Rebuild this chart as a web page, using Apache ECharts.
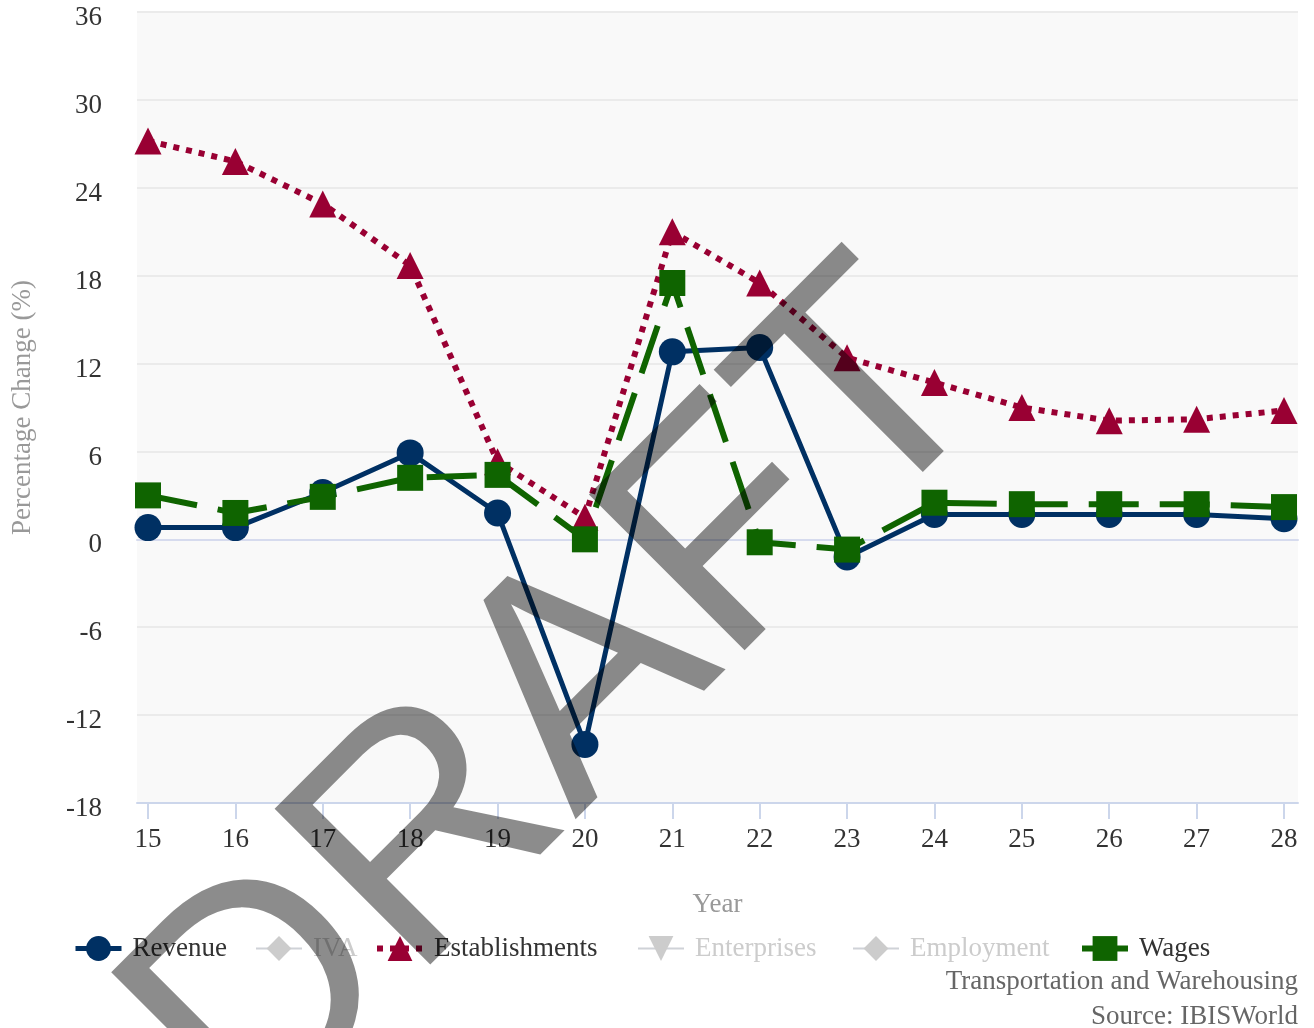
<!DOCTYPE html>
<html>
<head>
<meta charset="utf-8">
<script src="https://cdn.jsdelivr.net/npm/echarts@6/dist/echarts.min.js"></script>
<style>html,body{margin:0;padding:0;background:#fff}#c{width:1314px;height:1028px}</style>
</head>
<body>
<div id="c"></div>
<script>
const years = ['15','16','17','18','19','20','21','22','23','24','25','26','27','28'];
const revenue = [0.8, 0.8, 3.2, 5.9, 1.8, -14.0, 12.8, 13.1, -1.2, 1.7, 1.7, 1.7, 1.7, 1.4];
const iva = [];
const establishments = [27.2, 25.8, 22.9, 18.7, 5.3, 1.5, 21.0, 17.5, 12.4, 10.7, 9.0, 8.1, 8.2, 8.8];
const enterprises = [];
const employment = [];
const wages = [3.0, 1.8, 2.9, 4.2, 4.4, 0.0, 17.5, -0.2, -0.7, 2.5, 2.4, 2.4, 2.4, 2.2];
const seriesNames = ['Revenue', 'IVA', 'Establishments', 'Enterprises', 'Employment', 'Wages'];
const hiddenNames = ['IVA', 'Enterprises', 'Employment'];
const yMin = -18, yMax = 36, yStep = 6;

const FONT = '"Liberation Serif", "Times New Roman", serif';
const FS = 27;
const chart = echarts.init(document.getElementById('c'), null, {renderer: 'canvas'});

const invTri = 'path://M0,0 L10,0 L5,9 Z';
const legendLeft = [68, 250, 369, 632, 847, 1074];
const selected = {};
hiddenNames.forEach(n => { selected[n] = false; });

const legends = seriesNames.map((n, i) => ({
  left: legendLeft[i], top: 930,
  itemWidth: 46, itemHeight: 31, itemGap: 0,
  inactiveColor: '#cccccc',
  lineStyle: {width: 'inherit'},
  textStyle: {fontFamily: FONT, fontSize: FS, color: '#333', padding: [0, 0, 0, 6]},
  data: [n],
  selected: selected
}));

chart.setOption({
  animation: false,
  backgroundColor: '#ffffff',
  title: [
    {text: 'Transportation and Warehousing', right: 11, top: 963,
     textStyle: {fontFamily: FONT, fontSize: FS, fontWeight: 'normal', color: '#666'}},
    {text: 'Source: IBISWorld', right: 11, top: 998,
     textStyle: {fontFamily: FONT, fontSize: FS, fontWeight: 'normal', color: '#666'}}
  ],
  grid: [
    {left: 137, right: 16, top: 12, bottom: 225, show: true, backgroundColor: '#f9f9f9', borderWidth: 0},
    {left: 148, right: 30, top: 12, bottom: 225}
  ],
  legend: legends,
  xAxis: [
    {gridIndex: 0, type: 'value', min: 0, max: 1, position: 'bottom',
     axisLine: {show: true, onZero: true, lineStyle: {color: '#d6dbee', width: 2}},
     axisTick: {show: false}, axisLabel: {show: false}, splitLine: {show: false}},
    {gridIndex: 0, type: 'value', min: 0, max: 1, position: 'bottom',
     axisLine: {show: true, onZero: false, lineStyle: {color: '#ccd6eb', width: 2}},
     axisTick: {show: false}, axisLabel: {show: false}, splitLine: {show: false},
     name: 'Year', nameLocation: 'middle', nameGap: 88,
     nameTextStyle: {fontFamily: FONT, fontSize: FS, color: '#999'}},
    {gridIndex: 1, type: 'category', data: years, boundaryGap: false, position: 'bottom',
     axisLine: {show: false, onZero: false},
     axisTick: {show: true, alignWithLabel: true, length: 16, lineStyle: {color: '#ccd6eb', width: 2}},
     axisLabel: {fontFamily: FONT, fontSize: FS, color: '#333', margin: 23},
     splitLine: {show: false}}
  ],
  yAxis: [
    {gridIndex: 0, type: 'value', min: yMin, max: yMax, interval: yStep,
     axisLine: {show: false}, axisTick: {show: false},
     axisLabel: {fontFamily: FONT, fontSize: FS, color: '#333', margin: 35,
                 formatter: '{a|{value}}', rich: {a: {fontFamily: FONT, fontSize: FS, color: '#333', padding: [12, 0, 0, 0]}}},
     splitLine: {show: true, lineStyle: {color: '#ebebeb', width: 2}},
     name: 'Percentage Change (%)', nameLocation: 'middle', nameGap: 101,
     nameTextStyle: {fontFamily: FONT, fontSize: FS, color: '#999'}},
    {gridIndex: 1, type: 'value', min: yMin, max: yMax, interval: yStep, show: false,
     splitLine: {show: false}}
  ],
  series: [
    {name: 'Revenue', type: 'line', xAxisIndex: 2, yAxisIndex: 1, data: revenue,
     symbol: 'circle', symbolSize: 27, color: '#003063',
     lineStyle: {width: 5, color: '#003063', type: 'solid'}, itemStyle: {color: '#003063'}},
    {name: 'IVA', type: 'line', xAxisIndex: 2, yAxisIndex: 1, data: iva,
     symbol: 'diamond', symbolSize: 24, color: '#888',
     lineStyle: {width: 6, type: [14, 6, 4, 6]}},
    {name: 'Establishments', type: 'line', xAxisIndex: 2, yAxisIndex: 1, data: establishments,
     symbol: 'triangle', symbolSize: 27, color: '#990033',
     lineStyle: {width: 6, color: '#990033', type: [6, 7]}, itemStyle: {color: '#990033'}},
    {name: 'Enterprises', type: 'line', xAxisIndex: 2, yAxisIndex: 1, data: enterprises,
     symbol: invTri, symbolSize: 26, color: '#888',
     lineStyle: {width: 6, type: 'solid'}},
    {name: 'Employment', type: 'line', xAxisIndex: 2, yAxisIndex: 1, data: employment,
     symbol: 'diamond', symbolSize: 24, color: '#888',
     lineStyle: {width: 6, type: [6, 7]}},
    {name: 'Wages', type: 'line', xAxisIndex: 2, yAxisIndex: 1, data: wages,
     symbol: 'rect', symbolSize: 26, color: '#0f6400',
     lineStyle: {width: 6, color: '#0f6400', type: [50, 21]}, itemStyle: {color: '#0f6400'}}
  ],
  graphic: [
    {type: 'text', x: 563, y: 707, rotation: Math.PI / 4, z: 100, silent: true,
     style: {text: 'DRAFT', font: '320px "Liberation Sans", Arial, sans-serif',
             fill: 'rgba(0,0,0,0.45)', textAlign: 'center', textVerticalAlign: 'middle'}}
  ]
});
</script>
</body>
</html>
